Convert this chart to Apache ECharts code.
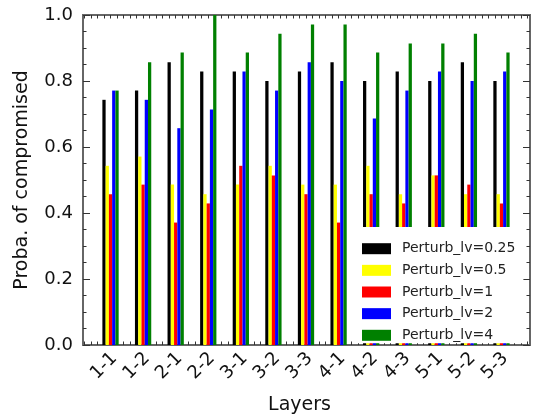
<!DOCTYPE html>
<html>
<head>
<meta charset="utf-8">
<script src="https://cdn.jsdelivr.net/npm/echarts@6/dist/echarts.min.js"></script>
<style>
  html, body { margin: 0; padding: 0; background: #fff; }
  #chart { width: 534px; height: 420px; }
</style>
</head>
<body>
<div id="chart"></div>
<script>
// 横轴分类
const layers = ['1-1', '1-2', '2-1', '2-2', '3-1', '3-2', '3-3', '4-1', '4-2', '4-3', '5-1', '5-2', '5-3'];
// 图例名称
const seriesNames = ['Perturb_lv=0.25', 'Perturb_lv=0.5', 'Perturb_lv=1', 'Perturb_lv=2', 'Perturb_lv=4'];
// 各扰动等级的数据
const lv025 = [0.743, 0.771, 0.857, 0.829, 0.829, 0.800, 0.829, 0.857, 0.800, 0.829, 0.800, 0.857, 0.800];
const lv05  = [0.543, 0.571, 0.486, 0.457, 0.486, 0.543, 0.486, 0.486, 0.543, 0.457, 0.514, 0.457, 0.457];
const lv1   = [0.457, 0.486, 0.371, 0.429, 0.543, 0.514, 0.457, 0.371, 0.457, 0.429, 0.514, 0.486, 0.429];
const lv2   = [0.771, 0.743, 0.657, 0.714, 0.829, 0.771, 0.857, 0.800, 0.686, 0.771, 0.829, 0.800, 0.829];
const lv4   = [0.771, 0.857, 0.886, 1.000, 0.886, 0.943, 0.971, 0.971, 0.886, 0.914, 0.914, 0.943, 0.886];
// y轴刻度
const yTicks = [0, 0.2, 0.4, 0.6, 0.8, 1.0];

const colors = ['#000000', '#ffff00', '#ff0000', '#0000ff', '#008000'];
const values = [lv025, lv05, lv1, lv2, lv4];
const font = 'DejaVu Sans';
const tickColor = '#333';

const chart = echarts.init(document.getElementById('chart'), null, { renderer: 'canvas' });

const gridTop = 15, gridBottom = 75;
const hiddenY = (g) => ({ gridIndex: g, type: 'value', min: 0, max: 1, show: false });

const option = {
  animation: false,
  grid: [
    // 外框 + y轴
    { left: 83, right: 4, top: gridTop, bottom: gridBottom, show: true, borderColor: '#666', borderWidth: 2, backgroundColor: 'transparent' },
    // 主刻度和标签
    { left: 87.71, right: 22.75, top: gridTop, bottom: gridBottom },
    // 柱子
    { left: 94.23, right: 16.23, top: gridTop, bottom: gridBottom },
    // 次刻度
    { left: 84.45, right: 6.46, top: gridTop, bottom: gridBottom }
  ],
  legend: {
    data: seriesNames,
    orient: 'vertical',
    left: 352,
    top: 227,
    icon: 'rect',
    itemWidth: 29,
    itemHeight: 11,
    itemGap: 5.65,
    padding: [13.7, 8, 0, 10],
    backgroundColor: '#ffffff',
    selectedMode: false,
    z: 10,
    textStyle: { fontFamily: font, fontSize: 14, color: '#222', lineHeight: 16, padding: [0, 0, 0, 6] }
  },
  xAxis: [
    { gridIndex: 0, type: 'value', min: 0, max: 1, show: false },
    {
      gridIndex: 1, type: 'category', data: layers, position: 'bottom',
      axisLine: { show: false },
      axisTick: { inside: true, alignWithLabel: true, interval: 0, length: 7, lineStyle: { color: tickColor, width: 1 } },
      axisLabel: { interval: 0, rotate: 45, align: 'center', verticalAlign: 'middle', margin: 24, fontFamily: font, fontSize: 18, color: '#111' },
      name: 'Layers', nameLocation: 'middle', nameGap: 54,
      nameTextStyle: { fontFamily: font, fontSize: 19, color: '#111' }
    },
    {
      gridIndex: 1, type: 'category', data: layers, position: 'top',
      axisLine: { show: false },
      axisTick: { inside: true, alignWithLabel: true, interval: 0, length: 7, lineStyle: { color: tickColor, width: 1 } },
      axisLabel: { show: false }
    },
    { gridIndex: 2, type: 'category', data: layers, show: false },
    {
      gridIndex: 3, type: 'value', min: -0.6, max: 13, interval: 0.2, position: 'bottom',
      axisLine: { show: false }, splitLine: { show: false }, axisLabel: { show: false },
      axisTick: { inside: true, length: 3.5, lineStyle: { color: tickColor, width: 1 } }
    },
    {
      gridIndex: 3, type: 'value', min: -0.6, max: 13, interval: 0.2, position: 'top',
      axisLine: { show: false }, splitLine: { show: false }, axisLabel: { show: false },
      axisTick: { inside: true, length: 3.5, lineStyle: { color: tickColor, width: 1 } }
    }
  ],
  yAxis: [
    {
      gridIndex: 0, type: 'value', min: yTicks[0], max: yTicks[yTicks.length - 1], interval: 0.2, position: 'left',
      axisLine: { show: false }, splitLine: { show: false },
      axisTick: { inside: true, length: 7, lineStyle: { color: tickColor, width: 1 } },
      minorTick: { show: true, splitNumber: 4, length: 3.5, lineStyle: { color: tickColor, width: 1 } },
      axisLabel: { margin: 10, fontFamily: font, fontSize: 18, color: '#111', formatter: (v) => v.toFixed(1) },
      name: 'Proba. of compromised', nameLocation: 'middle', nameGap: 51,
      nameTextStyle: { fontFamily: font, fontSize: 19, color: '#111' }
    },
    {
      gridIndex: 0, type: 'value', min: yTicks[0], max: yTicks[yTicks.length - 1], interval: 0.2, position: 'right',
      axisLine: { show: false }, splitLine: { show: false }, axisLabel: { show: false },
      axisTick: { inside: true, length: 7, lineStyle: { color: tickColor, width: 1 } },
      minorTick: { show: true, splitNumber: 4, length: 3.5, lineStyle: { color: tickColor, width: 1 } }
    },
    hiddenY(1),
    hiddenY(2),
    hiddenY(3)
  ],
  series: seriesNames.map((name, i) => ({
    name: name,
    type: 'bar',
    xAxisIndex: 3,
    yAxisIndex: 3,
    data: values[i],
    barWidth: '10%',
    barGap: '0%',
    itemStyle: { color: colors[i] },
    emphasis: { disabled: true }
  }))
};

chart.setOption(option);
</script>
</body>
</html>
